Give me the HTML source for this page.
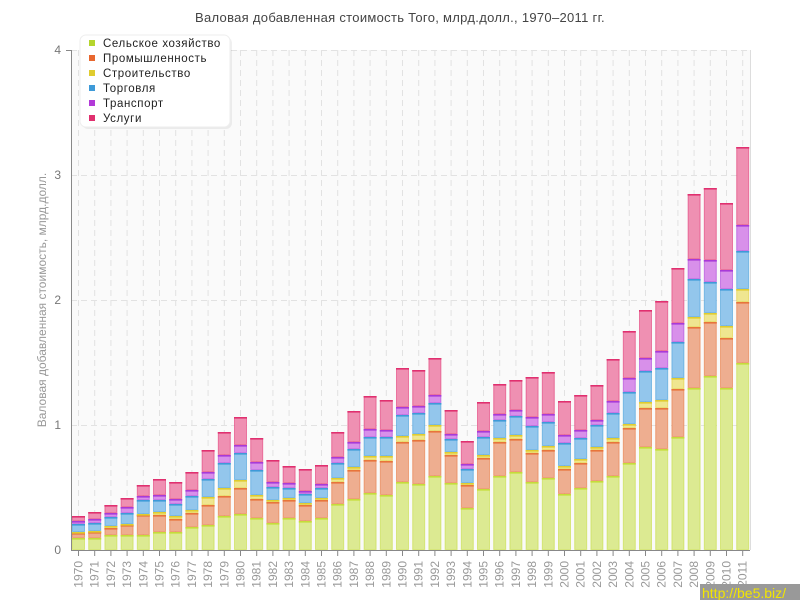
<!DOCTYPE html>
<html><head><meta charset="utf-8"><style>
body{margin:0;background:#fff;width:800px;height:600px;overflow:hidden}
svg{display:block;font-family:"Liberation Sans","DejaVu Sans",sans-serif}
</style></head><body>
<svg id="s" width="800" height="600" xmlns="http://www.w3.org/2000/svg">
<rect x="71" y="50" width="679" height="500" fill="#fafafa"/>
<g id="grid" stroke="#e2e2e2" stroke-dasharray="6,4" stroke-width="1">
<line x1="71" x2="750" y1="425.5" y2="425.5"/>
<line x1="71" x2="750" y1="300.5" y2="300.5"/>
<line x1="71" x2="750" y1="175.5" y2="175.5"/>
<line x1="71" x2="750" y1="50.5" y2="50.5"/>
</g>
<g id="vgrid" stroke="#e2e2e2" stroke-dasharray="6,4"></g>
<g id="bars"></g>
<line x1="71.5" x2="71.5" y1="50" y2="550" stroke="#888"/>
<line x1="66" x2="71" y1="50.5" y2="50.5" stroke="#888"/>
<line x1="71" x2="750" y1="550.5" y2="550.5" stroke="#888"/>
<line x1="750.5" x2="750.5" y1="50" y2="550" stroke="#ddd"/>
<g font-size="12" fill="#777" text-anchor="end">
<text x="61" y="554">0</text><text x="61" y="429">1</text><text x="61" y="304">2</text><text x="61" y="179">3</text><text x="61" y="54">4</text>
</g>
<text x="400" y="22" font-size="13" fill="#444" text-anchor="middle" letter-spacing="0.3">Валовая добавленная стоимость Того, млрд.долл., 1970–2011 гг.</text>
<text transform="translate(46,300) rotate(-90)" font-size="12" fill="#999" text-anchor="middle">Валовая добавленная стоимость, млрд.долл.</text>
<g font-size="12" fill="#999" text-anchor="end">
<text transform="translate(82.5,561) rotate(-90)">1970</text>
<text transform="translate(98.7,561) rotate(-90)">1971</text>
<text transform="translate(114.9,561) rotate(-90)">1972</text>
<text transform="translate(131.1,561) rotate(-90)">1973</text>
<text transform="translate(147.3,561) rotate(-90)">1974</text>
<text transform="translate(163.5,561) rotate(-90)">1975</text>
<text transform="translate(179.7,561) rotate(-90)">1976</text>
<text transform="translate(195.9,561) rotate(-90)">1977</text>
<text transform="translate(212.1,561) rotate(-90)">1978</text>
<text transform="translate(228.3,561) rotate(-90)">1979</text>
<text transform="translate(244.5,561) rotate(-90)">1980</text>
<text transform="translate(260.7,561) rotate(-90)">1981</text>
<text transform="translate(276.9,561) rotate(-90)">1982</text>
<text transform="translate(293.1,561) rotate(-90)">1983</text>
<text transform="translate(309.3,561) rotate(-90)">1984</text>
<text transform="translate(325.5,561) rotate(-90)">1985</text>
<text transform="translate(341.7,561) rotate(-90)">1986</text>
<text transform="translate(357.9,561) rotate(-90)">1987</text>
<text transform="translate(374.1,561) rotate(-90)">1988</text>
<text transform="translate(390.3,561) rotate(-90)">1989</text>
<text transform="translate(406.5,561) rotate(-90)">1990</text>
<text transform="translate(422.7,561) rotate(-90)">1991</text>
<text transform="translate(438.9,561) rotate(-90)">1992</text>
<text transform="translate(455.1,561) rotate(-90)">1993</text>
<text transform="translate(471.3,561) rotate(-90)">1994</text>
<text transform="translate(487.5,561) rotate(-90)">1995</text>
<text transform="translate(503.7,561) rotate(-90)">1996</text>
<text transform="translate(519.9,561) rotate(-90)">1997</text>
<text transform="translate(536.1,561) rotate(-90)">1998</text>
<text transform="translate(552.3,561) rotate(-90)">1999</text>
<text transform="translate(568.5,561) rotate(-90)">2000</text>
<text transform="translate(584.7,561) rotate(-90)">2001</text>
<text transform="translate(600.9,561) rotate(-90)">2002</text>
<text transform="translate(617.1,561) rotate(-90)">2003</text>
<text transform="translate(633.3,561) rotate(-90)">2004</text>
<text transform="translate(649.5,561) rotate(-90)">2005</text>
<text transform="translate(665.7,561) rotate(-90)">2006</text>
<text transform="translate(681.9,561) rotate(-90)">2007</text>
<text transform="translate(698.1,561) rotate(-90)">2008</text>
<text transform="translate(714.3,561) rotate(-90)">2009</text>
<text transform="translate(730.5,561) rotate(-90)">2010</text>
<text transform="translate(746.7,561) rotate(-90)">2011</text>
</g>
<g>
<rect x="82" y="37" width="150" height="92" rx="6" fill="#000" opacity="0.06"/>
<rect x="80" y="35" width="150" height="92" rx="6" fill="#fff" stroke="#eee"/>
<rect x="89" y="40" width="6" height="6" fill="#b5d52d"/>
<rect x="89" y="55" width="6" height="6" fill="#e8672f"/>
<rect x="89" y="70" width="6" height="6" fill="#e0cc2f"/>
<rect x="89" y="85" width="6" height="6" fill="#3e9ad8"/>
<rect x="89" y="100" width="6" height="6" fill="#b23ad8"/>
<rect x="89" y="115" width="6" height="6" fill="#e0306f"/>
<g font-size="11.5" fill="#222" letter-spacing="0.6">
<text x="103" y="47">Сельское хозяйство</text>
<text x="103" y="62">Промышленность</text>
<text x="103" y="77">Строительство</text>
<text x="103" y="92">Торговля</text>
<text x="103" y="107">Транспорт</text>
<text x="103" y="122">Услуги</text>
</g>
</g>
<rect x="700" y="584" width="100" height="16" fill="#999"/>
<text x="702" y="598" font-size="14" fill="#f2e600">http://be5.biz/</text>
</svg>
<script>
var d=[[538,533,532,524,521,516],[538,532,531,523,519,512],[535,528,526,517,513,505],[535,525,524,513,507,498],[535,515,514,500,496,485],[532,515,512,500,495,479],[532,519,516,504,499,482],[527,513,510,496,490,472],[525,505,497,479,472,450],[516,496,488,463,455,432],[514,488,480,453,445,417],[518,499,495,470,462,438],[523,502,500,487,482,460],[518,500,498,488,483,466],[521,505,503,494,491,469],[518,500,498,488,484,465],[504,482,478,463,457,432],[499,470,467,449,442,411],[493,460,456,437,429,396],[495,461,456,437,430,400],[482,442,436,415,407,368],[484,440,434,413,406,370],[476,431,425,403,395,358],[483,455,452,439,434,410],[508,485,483,469,464,441],[489,458,455,437,431,402],[476,442,438,420,414,384],[472,439,435,416,410,380],[482,453,450,426,417,377],[478,450,446,422,414,372],[494,469,466,443,435,401],[488,463,459,438,430,395],[481,450,447,425,420,385],[476,442,438,413,401,359],[463,428,424,392,378,331],[447,408,402,371,358,310],[449,408,400,368,351,301],[437,389,378,342,323,268],[388,327,317,279,259,194],[376,322,313,282,260,188],[388,338,326,289,270,203],[363,302,289,251,225,147]];
var F=["#dcea92","#eeae90","#efe690","#93c6ec","#d890ea","#ef90b2"],S=["#c5dc3a","#e8743b","#e0cc2f","#3e9ad8","#a83ad8","#e0306f"];
var ns="http://www.w3.org/2000/svg",g=document.getElementById("bars"),vg=document.getElementById("vgrid"),ax=document.getElementById("s");
function el(t,a,p){var e=document.createElementNS(ns,t);for(var k in a)e.setAttribute(k,a[k]);p.appendChild(e);return e;}
for(var i=0;i<42;i++){var x=72+i*16.2,c=x+6.5;
el("line",{x1:c,x2:c,y1:50,y2:550},vg);
el("line",{x1:c,x2:c,y1:551,y2:556,stroke:"#888"},ax);
var prev=550;for(var j=0;j<6;j++){var t=d[i][j];if(prev-t>0){el("rect",{x:x+0.5,y:t+0.5,width:12,height:Math.max(prev-t-1,0.5),fill:F[j],stroke:S[j],"stroke-opacity":0.55,"stroke-width":1},g);el("rect",{x:x,y:t,width:13,height:1.6,fill:S[j]},g);}prev=t;}
}
</script>
</body></html>
